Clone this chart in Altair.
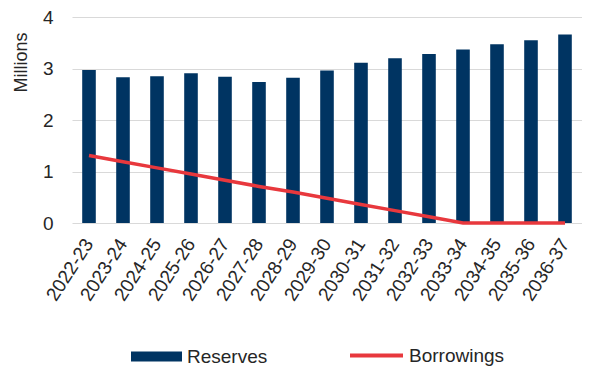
import altair as alt
import pandas as pd

years = ["2022-23", "2023-24", "2024-25", "2025-26", "2026-27", "2027-28", "2028-29",
         "2029-30", "2030-31", "2031-32", "2032-33", "2033-34", "2034-35", "2035-36", "2036-37"]
reserves = [2.97, 2.83, 2.85, 2.91, 2.84, 2.74, 2.82, 2.96, 3.11, 3.20, 3.28, 3.37, 3.47, 3.55, 3.66]
borrowings = [1.31, 1.19, 1.07, 0.95, 0.83, 0.71, 0.60, 0.48, 0.36, 0.24, 0.12, 0.0, 0.0, 0.0, 0.0]

df = pd.DataFrame({"year": years, "Reserves": reserves, "Borrowings": borrowings})
df["s1"] = "Reserves"
df["s2"] = "Borrowings"

FONT = "Liberation Sans"
TXT = "#262626"

x_enc = alt.X("year:N", sort=years, title=None,
              scale=alt.Scale(paddingInner=0.6, paddingOuter=0.3),
              axis=alt.Axis(labelAngle=-57, labelAlign="right", labelBaseline="middle",
                            labelPadding=17, labelFontSize=19, labelFont=FONT, labelColor=TXT,
                            ticks=False, domain=False, grid=False))

bars = alt.Chart(df).mark_bar(color="#003462").encode(
    x=x_enc,
    y=alt.Y("Reserves:Q", scale=alt.Scale(domain=[0, 4]),
            axis=alt.Axis(values=[0, 1, 2, 3, 4], format="d", title="Millions", titleFont=FONT,
                          titleFontSize=18, titleFontWeight="normal", titleColor=TXT,
                          titleAngle=-90, titleX=-42, titleY=45, titleAlign="center",
                          titleBaseline="bottom",
                          labelFontSize=19, labelFont=FONT, labelColor=TXT, labelPadding=19,
                          ticks=False, domain=False, grid=True, gridColor="#d9d9d9",
                          gridWidth=1.2)),
    color=alt.Color("s1:N", scale=alt.Scale(domain=["Reserves"], range=["#003462"]),
                    legend=alt.Legend(title=None, orient="none", legendX=59, legendY=314,
                                      symbolType="M-1,-0.2H1V0.2H-1Z", symbolSize=2601,
                                      symbolStrokeWidth=0,
                                      labelFontSize=19, labelFont=FONT, labelColor=TXT,
                                      labelOffset=5)),
)

line = alt.Chart(df).mark_line(color="#e8383d", strokeWidth=3.5).encode(
    x=alt.X("year:N", sort=years),
    y=alt.Y("Borrowings:Q"),
    color=alt.Color("s2:N", scale=alt.Scale(domain=["Borrowings"], range=["#e8383d"]),
                    legend=alt.Legend(title=None, orient="none", legendX=276, legendY=310,
                                      symbolType="stroke", symbolSize=2809,
                                      symbolStrokeWidth=4,
                                      labelFontSize=19, labelFont=FONT, labelColor=TXT,
                                      labelOffset=4)),
)

chart = alt.layer(bars, line).resolve_scale(color="independent").properties(
    width=510, height=206,
    autosize=alt.AutoSizeParams(type="none"),
    padding={"left": 64, "top": 9, "right": 0, "bottom": 144},
).configure_view(stroke=None)

chart.save("out.html", embed_options={"renderer": "svg", "actions": False})
